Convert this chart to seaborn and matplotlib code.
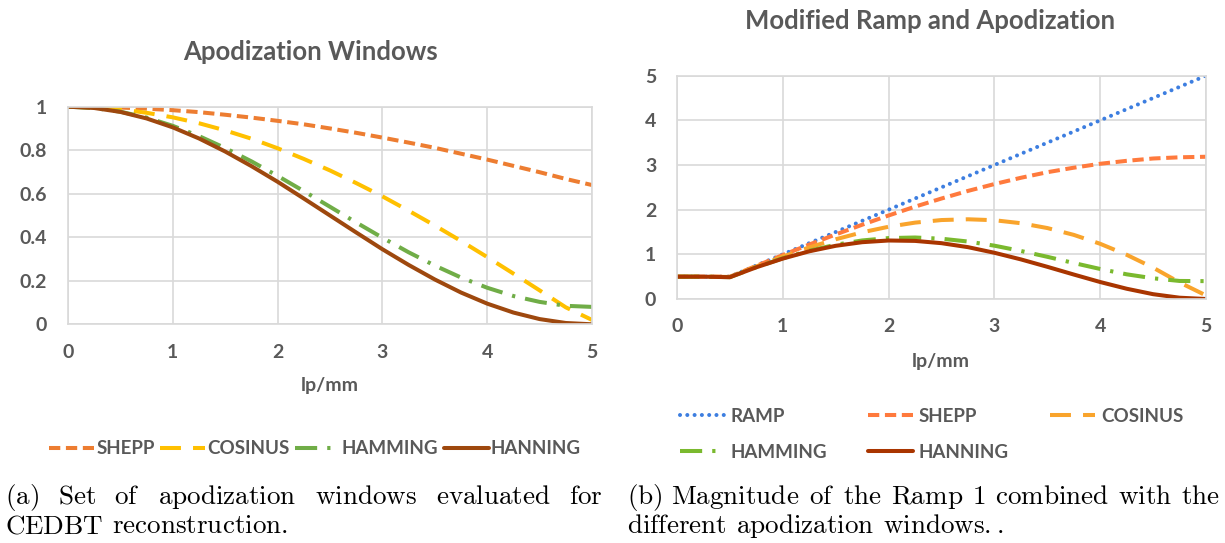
import matplotlib
matplotlib.use("Agg")
import matplotlib.pyplot as plt
import seaborn as sns

sns.set_theme(style="white")
plt.rcParams['font.family'] = ['Lato', 'DejaVu Sans']
plt.rcParams['mathtext.fontset'] = 'cm'

W, H = 1225, 543

lp = [0, 0.25, 0.5, 0.75, 1, 1.25, 1.5, 1.75, 2, 2.25, 2.5,
      2.75, 3, 3.25, 3.5, 3.75, 4, 4.25, 4.5, 4.75, 5]

# (a) apodization windows
win_shepp = [1, 0.999, 0.996, 0.991, 0.984, 0.975, 0.963, 0.950, 0.935, 0.919, 0.900,
             0.880, 0.858, 0.835, 0.811, 0.784, 0.757, 0.728, 0.699, 0.668, 0.64]
win_cosinus = [1, 0.997, 0.988, 0.972, 0.951, 0.924, 0.891, 0.853, 0.809, 0.760, 0.707,
               0.649, 0.588, 0.522, 0.454, 0.383, 0.309, 0.233, 0.156, 0.078, 0.02]
win_hamming = [1, 0.994, 0.977, 0.950, 0.912, 0.865, 0.810, 0.749, 0.682, 0.612, 0.540,
               0.468, 0.398, 0.331, 0.270, 0.215, 0.168, 0.130, 0.103, 0.085, 0.08]
win_hanning = [1, 0.994, 0.976, 0.946, 0.905, 0.854, 0.794, 0.727, 0.655, 0.578, 0.500,
               0.422, 0.345, 0.273, 0.206, 0.146, 0.095, 0.054, 0.024, 0.006, 0]

# (b) modified ramp combined with windows
mag_ramp = [0.5, 0.5, 0.5, 0.75, 1, 1.25, 1.5, 1.75, 2, 2.25, 2.5,
            2.75, 3, 3.25, 3.5, 3.75, 4, 4.25, 4.5, 4.75, 5]
mag_shepp = [0.5, 0.5, 0.498, 0.743, 0.984, 1.219, 1.445, 1.663, 1.870, 2.068, 2.250,
             2.420, 2.574, 2.714, 2.839, 2.940, 3.028, 3.094, 3.146, 3.173, 3.185]
mag_cosinus = [0.5, 0.5, 0.494, 0.729, 0.951, 1.155, 1.337, 1.493, 1.618, 1.710, 1.768,
               1.785, 1.764, 1.697, 1.589, 1.436, 1.236, 0.990, 0.702, 0.371, 0.08]
mag_hamming = [0.5, 0.5, 0.489, 0.713, 0.912, 1.081, 1.215, 1.311, 1.364, 1.377, 1.350,
               1.287, 1.194, 1.076, 0.945, 0.806, 0.672, 0.553, 0.464, 0.404, 0.40]
mag_hanning = [0.5, 0.5, 0.488, 0.710, 0.905, 1.068, 1.191, 1.272, 1.310, 1.301, 1.250,
               1.161, 1.035, 0.887, 0.721, 0.548, 0.380, 0.230, 0.108, 0.029, 0]

GRAY_TXT = '#595959'
GRID = '#d9d9d9'
LW = 2.9


def px(x0, y0, x1, y1):
    return [x0 / W, 1 - y1 / H, (x1 - x0) / W, (y1 - y0) / H]


fig = plt.figure(figsize=(W / 100, H / 100), dpi=100)
fig.patch.set_facecolor('white')
ax1 = fig.add_axes(px(68, 106.7, 592, 324.3))
ax2 = fig.add_axes(px(677, 75.7, 1206, 299))


def draw(ax, y, color, ls, label, cap='butt'):
    sns.lineplot(x=lp, y=y, ax=ax, color=color, linewidth=LW, linestyle=ls,
                 label=label, dash_capstyle=cap, solid_capstyle='round', sort=False)


# panel (a)
draw(ax1, win_shepp, '#ed7d31', (0, (2.8, 1.4)), 'SHEPP')
draw(ax1, win_cosinus, '#ffc000', (0, (5.2, 3.0)), 'COSINUS')
draw(ax1, win_hamming, '#70ad47', (0, (5.5, 2.5, 0.8, 2.5)), 'HAMMING')
draw(ax1, win_hanning, '#9e480e', '-', 'HANNING')

# panel (b)
draw(ax2, mag_ramp, '#3d7ee0', (0, (0.01, 1.8)), 'RAMP', cap='round')
draw(ax2, mag_shepp, '#ff7a3d', (0, (2.8, 1.4)), 'SHEPP')
draw(ax2, mag_cosinus, '#f9a42c', (0, (5.2, 3.0)), 'COSINUS')
draw(ax2, mag_hamming, '#7ab92e', (0, (5.5, 2.5, 0.8, 2.5)), 'HAMMING')
draw(ax2, mag_hanning, '#a93500', '-', 'HANNING')

for ax, ymax, yticks, ylabs in [
        (ax1, 1, [0, 0.2, 0.4, 0.6, 0.8, 1], ['0', '0.2', '0.4', '0.6', '0.8', '1']),
        (ax2, 5, [0, 1, 2, 3, 4, 5], ['0', '1', '2', '3', '4', '5'])]:
    ax.set_xlim(0, 5)
    ax.set_ylim(0, ymax)
    ax.set_xticks([0, 1, 2, 3, 4, 5])
    ax.set_xticklabels(['0', '1', '2', '3', '4', '5'])
    ax.set_yticks(yticks)
    ax.set_yticklabels(ylabs)
    ax.grid(True, color=GRID, linewidth=1.2)
    for s in ax.spines.values():
        s.set_color(GRID)
        s.set_linewidth(1.2)
    ax.tick_params(axis='both', length=0, labelsize=14, labelcolor=GRAY_TXT)
    ax.tick_params(axis='x', pad=14)
    ax.tick_params(axis='y', pad=15)
    for t in ax.get_xticklabels() + ax.get_yticklabels():
        t.set_fontweight('bold')
    ax.set_xlabel('')
    ax.set_ylabel('')
    ax.legend_.remove()

# titles and axis labels
fig.text(311 / W, 1 - 52 / H, 'Apodization Windows', ha='center', va='center',
         fontsize=18.5, fontweight='bold', color=GRAY_TXT)
fig.text(930 / W, 1 - 21 / H, 'Modified Ramp and Apodization', ha='center', va='center',
         fontsize=18.5, fontweight='bold', color=GRAY_TXT)
fig.text(330 / W, 1 - 385 / H, 'lp/mm', ha='center', va='center',
         fontsize=14, fontweight='bold', color=GRAY_TXT)
fig.text(941 / W, 1 - 361 / H, 'lp/mm', ha='center', va='center',
         fontsize=14, fontweight='bold', color=GRAY_TXT)

# legends
h1, l1 = ax1.get_legend_handles_labels()
fig.legend(h1, l1, loc='center', bbox_to_anchor=(315 / W, 1 - 449 / H), ncol=4,
           frameon=False, handlelength=2.4, handletextpad=0.1, columnspacing=0.3,
           prop={'size': 13.5, 'weight': 'bold'}, labelcolor=GRAY_TXT)

h2, l2 = ax2.get_legend_handles_labels()
order = [0, 3, 1, 4, 2]
fig.legend([h2[i] for i in order], [l2[i] for i in order], loc='upper left',
           bbox_to_anchor=(663 / W, 1 - 391 / H), ncol=3, frameon=False,
           handlelength=2.4, handletextpad=0.3, columnspacing=2.2, labelspacing=1.0,
           prop={'size': 13.5, 'weight': 'bold'}, labelcolor=GRAY_TXT)

# captions (justified like the LaTeX subcaptions)
CAP_SIZE = 19.5
fig.canvas.draw()
renderer = fig.canvas.get_renderer()


def caption_line(text, x0, x1, y, justify):
    words = text.split(' ')
    texts = [fig.text(0, 1 - y / H, r'$\mathrm{%s}$' % w, fontsize=CAP_SIZE,
                      va='baseline', ha='left', color='black') for w in words]
    widths = [t.get_window_extent(renderer).width for t in texts]
    if justify and len(words) > 1:
        gap = (x1 - x0 - sum(widths)) / (len(words) - 1)
    else:
        gap = 0.333 * CAP_SIZE * 100 / 72
    x = x0
    for t, w in zip(texts, widths):
        t.set_x(x / W)
        x += w + gap


caption_line('(a) Set of apodization windows evaluated for', 5, 603, 504, True)
caption_line('CEDBT reconstruction.', 5, 603, 533, False)
caption_line('(b) Magnitude of the Ramp 1 combined with the', 627, 1220, 504, True)
caption_line('different apodization windows..', 627, 1220, 533, False)

fig.savefig('out.png', dpi=100, facecolor='white')
